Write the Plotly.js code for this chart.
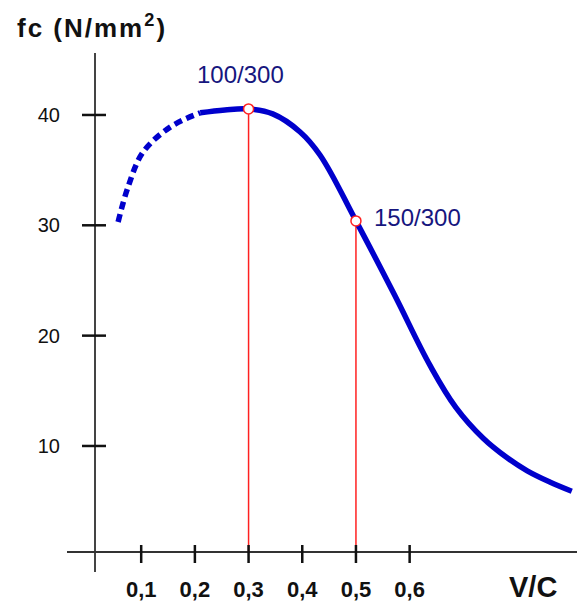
<!DOCTYPE html>
<html>
<head>
<meta charset="utf-8">
<script src="https://cdn.plot.ly/plotly-3.0.1.min.js"></script>
<style>
html,body{margin:0;padding:0;background:#fff;}
#chart{width:577px;height:603px;}
.gtitle{letter-spacing:2px;}
</style>
</head>
<body>
<div id="chart"></div>
<script>
// Data
var dashedX = [0.057, 0.075, 0.103, 0.154, 0.210];
var dashedY = [30.3, 33.4, 36.6, 38.9, 40.2];
var solidX = [0.210, 0.256, 0.300, 0.345, 0.396, 0.433, 0.500, 0.571, 0.638, 0.686, 0.737, 0.781, 0.819, 0.861, 0.902];
var solidY = [40.2, 40.46, 40.55, 40.1, 38.46, 36.37, 30.4, 23.77, 17.3, 13.5, 10.7, 8.95, 7.75, 6.74, 5.9];
var markX = [0.3, 0.5];
var markY = [40.55, 30.4];
var markLabels = ['100/300', '150/300'];
var xTickVals = [0.1, 0.2, 0.3, 0.4, 0.5, 0.6];
var xTickText = ['0,1', '0,2', '0,3', '0,4', '0,5', '0,6'];
var yTickVals = [10, 20, 30, 40];
var yTickText = ['10', '20', '30', '40'];
var baseY = 0.39; // value where the V/C axis line sits

var blue = '#0000cc';
var navy = '#16167e';
var red = '#ff2020';
var font = 'Liberation Sans, Arial, Helvetica, sans-serif';

var traces = [];
// red drop lines
for (var i = 0; i < markX.length; i++) {
  traces.push({x: [markX[i], markX[i]], y: [markY[i], baseY], mode: 'lines',
    line: {color: red, width: 1.5}, hoverinfo: 'skip'});
}
traces.push({x: dashedX, y: dashedY, mode: 'lines',
  line: {color: blue, width: 5.5, dash: '8px,5px', shape: 'spline', smoothing: 1}});
traces.push({x: solidX, y: solidY, mode: 'lines',
  line: {color: blue, width: 5.5, shape: 'spline', smoothing: 1.1}});
traces.push({x: markX, y: markY, mode: 'markers',
  marker: {size: 10, color: '#ffffff', line: {color: red, width: 1.5}}});

var shapes = [];
var yAxisPaperX = 28 / 510;
var xAxisPaperY = 20 / 519;
shapes.push({type: 'line', xref: 'paper', yref: 'paper', x0: yAxisPaperX, x1: yAxisPaperX, y0: 0, y1: 1,
  line: {color: '#444', width: 2}, layer: 'below'});
shapes.push({type: 'line', xref: 'paper', yref: 'paper', x0: 0, x1: 1, y0: xAxisPaperY, y1: xAxisPaperY,
  line: {color: '#333', width: 2}, layer: 'below'});
xTickVals.forEach(function (v) {
  shapes.push({type: 'line', xref: 'x', yref: 'paper', ysizemode: 'pixel', yanchor: xAxisPaperY,
    x0: v, x1: v, y0: -11, y1: 7, line: {color: '#111', width: 2.5}});
});
yTickVals.forEach(function (v) {
  shapes.push({type: 'line', xref: 'paper', yref: 'y', xsizemode: 'pixel', xanchor: yAxisPaperX,
    x0: -13, x1: 11, y0: v, y1: v, line: {color: '#111', width: 2.5}});
});

var annotations = [
  {x: markX[0], y: markY[0], xref: 'x', yref: 'y', text: markLabels[0], showarrow: false,
    xanchor: 'center', yanchor: 'middle', xshift: -8, yshift: 34, font: {family: font, size: 24, color: navy}},
  {x: markX[1], y: markY[1], xref: 'x', yref: 'y', text: markLabels[1], showarrow: false,
    xanchor: 'left', yanchor: 'middle', xshift: 16, yshift: 3, font: {family: font, size: 24, color: navy}},
  {x: (533 - 67) / 510, y: (572 - 587) / 519, xref: 'paper', yref: 'paper', text: '<b>V/C</b>', showarrow: false,
    xanchor: 'center', yanchor: 'middle', font: {family: font, size: 29, color: '#111'}}
];

var layout = {
  width: 577, height: 603,
  margin: {l: 67, r: 0, t: 53, b: 31, pad: 0},
  paper_bgcolor: '#fff', plot_bgcolor: '#fff',
  showlegend: false,
  title: {text: '<b>fc (N/mm<sup>2</sup>)</b>', x: 17 / 577, xanchor: 'left', xref: 'container',
    y: 1 - 28 / 603, yanchor: 'middle', yref: 'container', font: {family: font, size: 26, color: '#111'}},
  xaxis: {range: [-0.03818, 0.91172], showgrid: false, zeroline: false, showline: false, ticks: '',
    tickmode: 'array', tickvals: xTickVals, ticktext: xTickText, ticklabelstandoff: 2,
    tickfont: {family: font, size: 22, color: '#111', weight: 'bold'}, fixedrange: true},
  yaxis: {range: [-1.423, 45.617], showgrid: false, zeroline: false, showline: false, ticks: '',
    tickmode: 'array', tickvals: yTickVals, ticktext: yTickText, ticklabelstandoff: 6,
    tickfont: {family: font, size: 20, color: '#111'}, fixedrange: true},
  shapes: shapes,
  annotations: annotations
};

Plotly.newPlot('chart', traces, layout, {displayModeBar: false, staticPlot: true});
</script>
</body>
</html>
